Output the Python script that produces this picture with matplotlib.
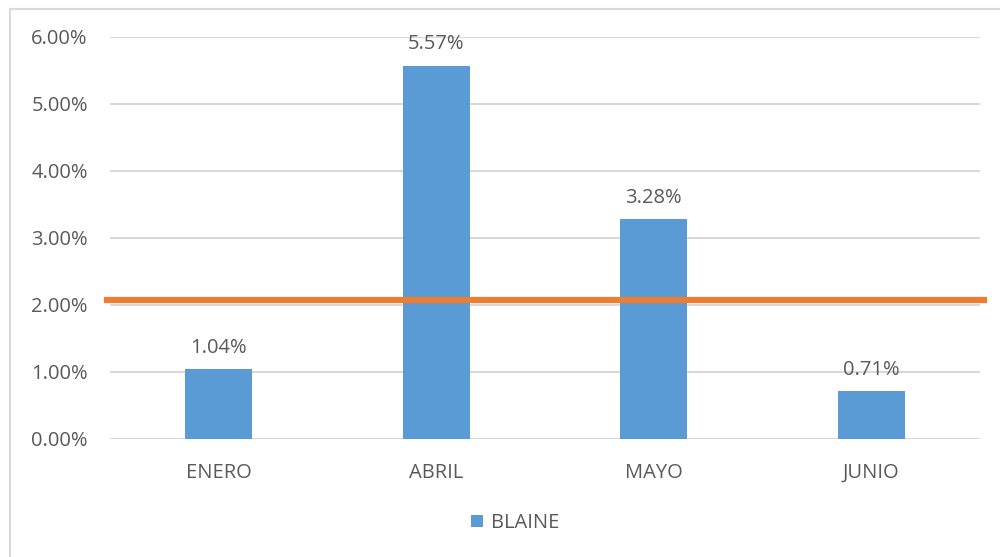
import matplotlib.pyplot as plt
from matplotlib.patches import Rectangle
from matplotlib.ticker import FuncFormatter

meses = ["ENERO", "ABRIL", "MAYO", "JUNIO"]
blaine = [0.0104, 0.0557, 0.0328, 0.0071]
limite = 0.0207
serie = "BLAINE"

gris = "#595959"
azul = "#5B9BD5"
naranja = "#ED7D31"

plt.rcParams['font.family'] = ['Open Sans', 'DejaVu Sans']
fs = 14.5

fig = plt.figure(figsize=(10, 5.57), dpi=100)
# marco del grafico
fig.patches.append(Rectangle((0.010, -0.05), 1.1, 1.034, transform=fig.transFigure,
                             fill=False, edgecolor="#d9d9d9", linewidth=1.5))

ax = fig.add_axes([0.11, 0.212, 0.87, 0.722])
x = range(len(meses))
bars = ax.bar(x, blaine, width=0.31, color=azul, label=serie, zorder=2)
for xi, v in zip(x, blaine):
    ax.annotate("{:.2f}%".format(v * 100), (xi, v), xytext=(0, 8), textcoords="offset points",
                ha="center", va="bottom", fontsize=fs, color=gris)

ax.axhline(limite, xmin=-0.003, xmax=1.005, color=naranja, linewidth=4.5, clip_on=False, zorder=3)

ax.set_xlim(-0.5, len(meses) - 0.5)
ax.set_ylim(0, 0.06)
ax.set_yticks([0, 0.01, 0.02, 0.03, 0.04, 0.05, 0.06])
ax.yaxis.set_major_formatter(FuncFormatter(lambda v, p: "{:.2f}%".format(v * 100)))
ax.set_xticks(list(x))
ax.set_xticklabels(meses)
ax.tick_params(length=0, labelsize=fs, labelcolor=gris)
ax.tick_params(axis="y", pad=16)
ax.tick_params(axis="x", pad=17)
ax.grid(axis="y", color="#d9d9d9", linewidth=1.5, zorder=0)
ax.set_axisbelow(True)
for s in ax.spines.values():
    s.set_visible(False)

leg = fig.legend(handles=[bars], labels=[serie], loc="center", bbox_to_anchor=(0.515, 0.061),
                 frameon=False, fontsize=fs, handlelength=0.6, handleheight=0.6, handletextpad=0.4)
for t in leg.get_texts():
    t.set_color(gris)

fig.savefig("out.png", dpi=100)
